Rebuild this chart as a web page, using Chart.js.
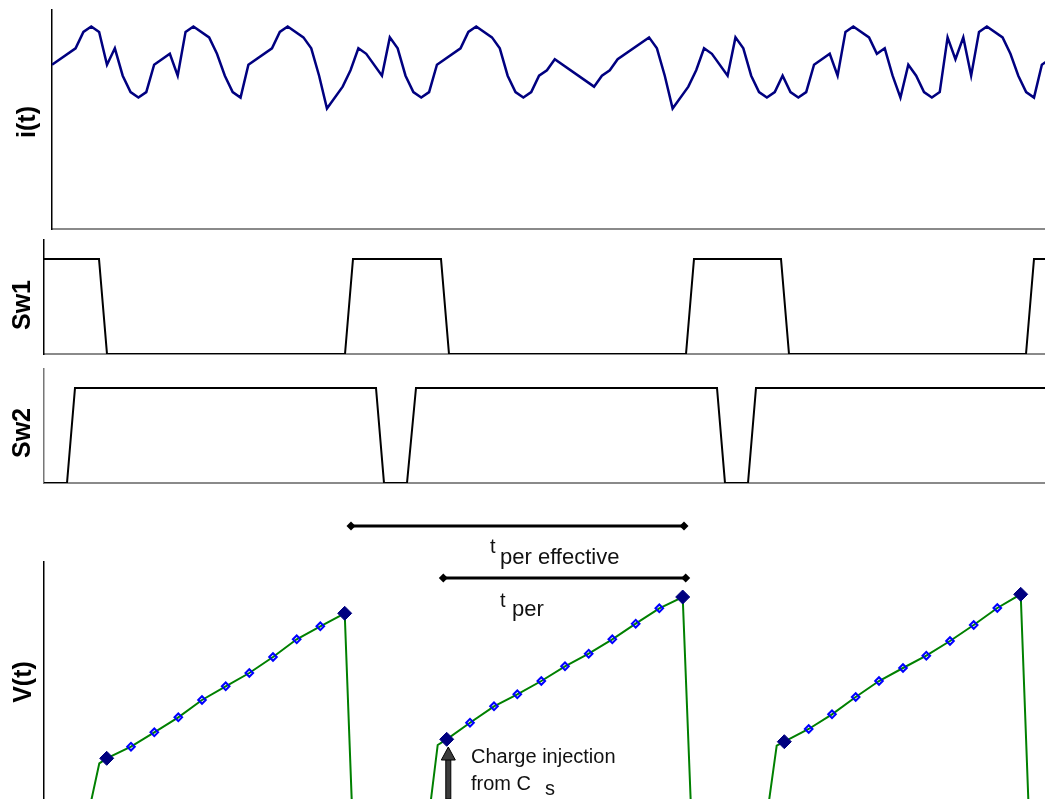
<!DOCTYPE html>
<html>
<head>
<meta charset="utf-8">
<script src="https://cdn.jsdelivr.net/npm/chart.js@4.4.1/dist/chart.umd.min.js"></script>
<style>
  html, body { margin: 0; padding: 0; background: #fff; overflow: hidden; }
  body { width: 1045px; height: 799px; position: relative; font-family: "Liberation Sans", Arial, sans-serif; }
  canvas { position: absolute; left: 0; }
  .ylab { position: absolute; font-weight: bold; font-size: 25px; line-height: 1; white-space: nowrap; color: #000;
          transform: translate(-50%, -50%) rotate(-90deg); }
  .note { position: absolute; line-height: 1; white-space: nowrap; color: #111; }
</style>
</head>
<body>
<canvas id="iChart" width="1045" height="231" style="top:0px"></canvas>
<canvas id="sw1Chart" width="1045" height="124" style="top:232px"></canvas>
<canvas id="sw2Chart" width="1045" height="124" style="top:361px"></canvas>
<canvas id="vChart" width="1045" height="299" style="top:500px"></canvas>

<div class="ylab" style="left:26px; top:122px">i(t)</div>
<div class="ylab" style="left:21px; top:305px">Sw1</div>
<div class="ylab" style="left:21px; top:433px">Sw2</div>
<div class="ylab" style="left:22px; top:682px">V(t)</div>

<div class="note" style="left:490px; top:536px; font-size:20px">t</div>
<div class="note" style="left:500px; top:546px; font-size:22px">per effective</div>
<div class="note" style="left:500px; top:590px; font-size:20px">t</div>
<div class="note" style="left:512px; top:598px; font-size:22px">per</div>
<div class="note" style="left:471px; top:746px; font-size:20px">Charge injection</div>
<div class="note" style="left:471px; top:773px; font-size:20px">from C</div>
<div class="note" style="left:545px; top:778px; font-size:20px">s</div>

<script>
// input current i(t): sample index / level at each vertex of the trace
const iTime = [0, 3, 4, 5, 6, 7, 8, 9, 10, 11, 12, 13, 15, 16, 17, 18, 20, 21, 22, 23, 24, 25, 28, 29, 30, 32, 33, 34, 35, 37,
  38, 39, 40, 42, 43, 44, 45, 46, 47, 48, 49, 52, 53, 54, 56, 57, 58, 59, 60, 61, 62, 63, 64, 69, 70, 71, 72, 76, 77, 78,
  79, 81, 82, 83, 84, 86, 87, 88, 89, 90, 91, 92, 93, 94, 95, 96, 97, 99, 100, 101, 102, 104, 105, 106, 107, 108, 109, 110, 111, 112,
  113, 114, 115, 116, 117, 118, 119, 121, 122, 123, 124, 125, 126, 127];
const iValue = [30, 33, 36, 37, 36, 30, 33, 28, 25, 24, 25, 30, 32, 28, 36, 37, 35, 32, 28, 25, 24, 30, 33, 36, 37, 35, 33, 28, 22, 26,
  29, 33, 32, 28, 35, 33, 28, 25, 24, 25, 30, 33, 36, 37, 35, 33, 28, 25, 24, 25, 28, 29, 31, 26, 28, 29, 31, 35, 33, 28,
  22, 26, 29, 33, 32, 28, 35, 33, 28, 25, 24, 25, 28, 25, 24, 25, 30, 32, 28, 36, 37, 35, 32, 33, 28, 24, 30, 28, 25, 24,
  25, 35, 31, 35, 28, 36, 37, 35, 32, 28, 25, 24, 30, 31];

// switch states (time, 0 = open, 1 = closed)
const sw1Time = [0, 55, 63, 301, 309, 397, 405, 642, 650, 737, 745, 982, 990, 1001];
const sw1State = [1, 1, 0, 0, 1, 1, 0, 0, 1, 1, 0, 0, 1, 1];
const sw2Time = [0, 23, 31, 332, 340, 363, 372, 673, 681, 704, 712, 1001];
const sw2State = [0, 0, 1, 1, 0, 0, 1, 1, 0, 0, 1, 1];

// integrator output V(t); mark: 0 = plain vertex, 1 = sample, 2 = start/end of ramp
const vTime = [0, 40, 55.3, 62.7, 87, 110.3, 134.3, 158, 181.7, 205.3, 229, 252.7, 276.3, 300.7, 309,
  382.7, 393.7, 402.7, 426, 450, 473.3, 497.3, 521, 544.7, 568.3, 591.7, 615.3, 638.7, 648,
  720.4, 732.7, 740.3, 764.7, 788, 811.7, 835, 859, 882.3, 906, 929.7, 953.3, 976.7, 985.6, 1001];
const vValue = [-35, -35, 35.7, 40.7, 52.3, 66.7, 81.7, 99, 112.7, 126, 142, 159.7, 172.7, 185.7, -35,
  -35, 54, 59.7, 76.3, 92.7, 104.7, 118, 132.7, 145.3, 159.7, 175.3, 190.7, 202, -35,
  -35, 53.3, 57.3, 70, 84.7, 102, 118, 131, 143.3, 158, 174, 191, 204.7, -35, -35];
const vMark = [0, 0, 0, 2, 1, 1, 1, 1, 1, 1, 1, 1, 1, 2, 0,
  0, 0, 2, 1, 1, 1, 1, 1, 1, 1, 1, 1, 2, 0,
  0, 0, 2, 1, 1, 1, 1, 1, 1, 1, 1, 1, 2, 0, 0];

// annotation times
const spanEffective = [307, 640];
const spanPer = [399.3, 641.7];
const injectTime = 404.3;

const toPoints = (xs, ys) => xs.map((x, k) => ({ x: x, y: ys[k] }));

function panelOptions(xMax, yMin, yMax, pad, yBorder, showX) {
    return {
        responsive: false,
        animation: false,
        layout: { padding: pad, autoPadding: false },
        plugins: { legend: { display: false }, tooltip: { enabled: false } },
        scales: {
            x: {
                type: 'linear', min: 0, max: xMax, display: showX,
                ticks: { display: false },
                grid: { display: false, drawTicks: false },
                border: { display: true, color: '#8a8a8a', width: 2 }
            },
            y: {
                min: yMin, max: yMax,
                ticks: { display: false },
                grid: { display: false, drawTicks: false },
                border: { display: true, color: yBorder, width: 1.5 }
            }
        }
    };
}

new Chart(document.getElementById('iChart').getContext('2d'), {
    type: 'line',
    data: { datasets: [{ data: toPoints(iTime, iValue), borderColor: '#000080', borderWidth: 2.5, pointRadius: 0, tension: 0 }] },
    options: panelOptions(126.4, 0, 40, { left: 52, top: 10, right: 0, bottom: 2 }, '#000', true)
});

new Chart(document.getElementById('sw1Chart').getContext('2d'), {
    type: 'line',
    data: { datasets: [{ data: toPoints(sw1Time, sw1State), borderColor: '#000', borderWidth: 2, pointRadius: 0, tension: 0 }] },
    options: panelOptions(1001, 0, 1.2, { left: 44, top: 8, right: 0, bottom: 2 }, '#000', true)
});

new Chart(document.getElementById('sw2Chart').getContext('2d'), {
    type: 'line',
    data: { datasets: [{ data: toPoints(sw2Time, sw2State), borderColor: '#000', borderWidth: 2, pointRadius: 0, tension: 0 }] },
    options: panelOptions(1001, 0, 1.2, { left: 44, top: 8, right: 0, bottom: 2 }, '#777', true)
});

function diamond(ctx, x, y, r) {
    ctx.beginPath();
    ctx.moveTo(x - r, y); ctx.lineTo(x, y - r); ctx.lineTo(x + r, y); ctx.lineTo(x, y + r);
    ctx.closePath();
    ctx.fill();
}

function dimLine(ctx, x1, x2, y) {
    ctx.strokeStyle = '#000';
    ctx.fillStyle = '#000';
    ctx.lineWidth = 3;
    ctx.beginPath(); ctx.moveTo(x1, y); ctx.lineTo(x2, y); ctx.stroke();
    diamond(ctx, x1, y, 4.5);
    diamond(ctx, x2, y, 4.5);
}

const notesPlugin = {
    id: 'notes',
    afterDraw(chart) {
        const ctx = chart.ctx;
        const xs = chart.scales.x;
        const top = chart.chartArea.top;
        ctx.save();
        dimLine(ctx, xs.getPixelForValue(spanEffective[0]), xs.getPixelForValue(spanEffective[1]), top - 36);
        dimLine(ctx, xs.getPixelForValue(spanPer[0]), xs.getPixelForValue(spanPer[1]), top + 16);

        // charge injection arrow
        const ax = xs.getPixelForValue(injectTime);
        const tip = top + 185;
        ctx.fillStyle = '#3c3c3c';
        ctx.strokeStyle = '#000';
        ctx.lineWidth = 1;
        ctx.fillRect(ax - 2.5, tip + 12, 5, chart.height - tip - 12);
        ctx.strokeRect(ax - 2.5, tip + 12, 5, chart.height - tip - 12);
        ctx.beginPath();
        ctx.moveTo(ax, tip); ctx.lineTo(ax + 7, tip + 13); ctx.lineTo(ax - 7, tip + 13);
        ctx.closePath();
        ctx.fill(); ctx.stroke();
        ctx.restore();
    }
};

const vPoints = toPoints(vTime, vValue);
new Chart(document.getElementById('vChart').getContext('2d'), {
    type: 'line',
    data: {
        datasets: [
            {
                data: vPoints.filter((p, k) => vMark[k] === 2), showLine: false,
                pointStyle: 'rectRot', pointRadius: 7, backgroundColor: '#000080', borderColor: '#000080', borderWidth: 1
            },
            {
                data: vPoints.filter((p, k) => vMark[k] === 1), showLine: false,
                pointStyle: 'rectRot', pointRadius: 3.8, backgroundColor: 'rgba(0,0,0,0)', borderColor: '#0000ff', borderWidth: 2
            },
            { data: vPoints, borderColor: '#008000', borderWidth: 2, pointRadius: 0, tension: 0 }
        ]
    },
    options: panelOptions(1001, 0, 237, { left: 44, top: 62, right: 0, bottom: 0 }, '#000', false),
    plugins: [notesPlugin]
});
</script>
</body>
</html>
